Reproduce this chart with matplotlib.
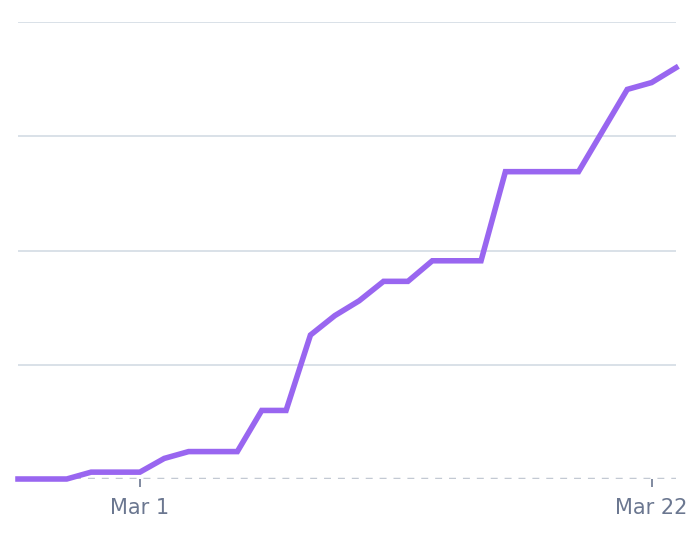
import matplotlib.pyplot as plt

# days counted from Feb 24
days = list(range(28))
values = [0, 0, 0, 6, 6, 6, 18, 24, 24, 24, 60, 60, 126, 143, 156, 173, 173, 191, 191, 191,
          269, 269, 269, 269, 305, 341, 347, 360]
tick_days = [5, 26]
tick_labels = ["Mar 1", "Mar 22"]
grid_levels = [100, 200, 300, 400]

fig = plt.figure(figsize=(6.92, 5.34), dpi=100)
ax = fig.add_axes([18 / 692, 1 - 479 / 534, 658 / 692, (479 - 22) / 534 * 1.0])
ax.set_xlim(0, 27)
ax.set_ylim(0, 400)

for g in grid_levels:
    ax.axhline(g, color="#d3dbe4", lw=1.2, zorder=1)
ax.axhline(0, color="#c3c9d3", lw=2.5, ls=(0, (2, 2)), zorder=1)

ax.plot(days, values, color="#9966f0", lw=4, solid_joinstyle="miter", zorder=3, clip_on=False)

for s in ax.spines.values():
    s.set_visible(False)
ax.set_yticks([])
ax.set_xticks(tick_days)
ax.set_xticklabels(tick_labels, fontsize=15, color="#6b7790")
ax.tick_params(axis="x", length=6, width=1.2, color="#6b7790", pad=8)

fig.savefig("out.png", dpi=100)
